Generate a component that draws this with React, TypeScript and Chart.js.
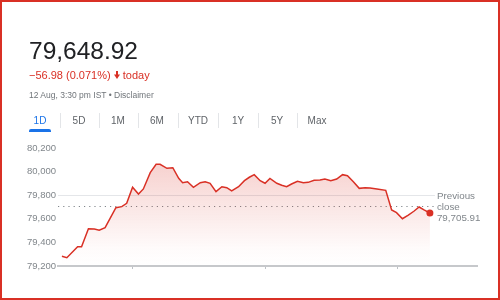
import React, { useEffect, useRef } from 'react';
import { Chart, registerables } from 'chart.js';

Chart.register(...registerables);

// ---- data ----
const TIMES = [0, 5, 16, 20, 27, 33, 38, 44, 55, 61, 66, 72, 78, 83, 90, 96, 100, 107, 113, 119, 123, 128, 134, 141, 146, 151, 157, 163, 168, 173, 180, 186, 191, 196, 202, 207, 212, 219, 224, 229, 234, 240, 246, 251, 257, 263, 268, 274, 280, 286, 291, 297, 303, 309, 314, 321, 330, 336, 341, 347, 353, 359, 364, 369, 375];
const PRICES = [79282, 79270, 79364, 79364, 79516, 79514, 79503, 79525, 79694, 79703, 79731, 79867, 79810, 79853, 79991, 80062, 80062, 80028, 80033, 79943, 79906, 79914, 79867, 79906, 79914, 79901, 79830, 79872, 79864, 79836, 79872, 79923, 79952, 79974, 79923, 79901, 79942, 79901, 79884, 79872, 79895, 79918, 79906, 79909, 79926, 79929, 79937, 79923, 79937, 79974, 79965, 79914, 79858, 79864, 79861, 79853, 79841, 79675, 79652, 79601, 79632, 79666, 79700, 79675, 79648.92];
const Y_TICKS = [79200, 79400, 79600, 79800, 80000, 80200];
const X_TICKS = [72, 207, 342];
const X_RANGE = [-4, 423];
const PREV_CLOSE = 79705.91;
const GRID_VALUE = 79800;
const TABS = ['1D', '5D', '1M', '6M', 'YTD', '1Y', '5Y', 'Max'];
const PRICE_TEXT = '79,648.92';
const CHANGE_TEXT = '\u221256.98 (0.071%)';
const CHANGE_SUFFIX = 'today';
const DATE_TEXT = '12 Aug, 3:30 pm IST \u2022 Disclaimer';
const PREV_LABEL = ['Previous', 'close', '79,705.91'];

const FONT = "'Liberation Sans', Arial, sans-serif";
const RED = '#d93025';

const prevClosePlugin = {
  id: 'prevClose',
  beforeDatasetsDraw(chart: any) {
    const { ctx, chartArea, scales } = chart;
    const y = Math.round(scales.y.getPixelForValue(PREV_CLOSE)) + 0.5;
    const xEnd = scales.x.getPixelForValue(TIMES[TIMES.length - 1]) + 4;
    ctx.save();
    ctx.strokeStyle = '#80868b';
    ctx.lineWidth = 1;
    ctx.setLineDash([1.2, 4]);
    ctx.beginPath();
    ctx.moveTo(chartArea.left, y);
    ctx.lineTo(xEnd, y);
    ctx.stroke();
    ctx.restore();
  },
  afterDraw(chart: any) {
    const { ctx, chartArea, scales } = chart;
    const y = scales.y.getPixelForValue(PREV_CLOSE);
    const xEnd = scales.x.getPixelForValue(TIMES[TIMES.length - 1]) + 4;
    ctx.save();
    ctx.fillStyle = '#ffffff';
    ctx.fillRect(xEnd + 1, y - 17, chartArea.right - xEnd + 2, 35);
    ctx.fillStyle = '#80868b';
    ctx.font = `9.8px ${FONT}`;
    ctx.textBaseline = 'middle';
    ctx.textAlign = 'left';
    PREV_LABEL.forEach((t, i) => {
      ctx.fillText(t, xEnd + 3, y - 10 + i * 11);
    });
    ctx.restore();
  },
};

function StockChart() {
  const ref = useRef<HTMLCanvasElement | null>(null);
  useEffect(() => {
    if (!ref.current) return;
    const chart = new Chart(ref.current, {
      type: 'line',
      data: {
        datasets: [
          {
            data: TIMES.map((t, i) => ({ x: t, y: PRICES[i] })),
            borderColor: RED,
            borderWidth: 1.5,
            tension: 0,
            fill: 'start',
            backgroundColor: (c: any) => {
              const a = c.chart.chartArea;
              if (!a) return 'rgba(0,0,0,0)';
              const g = c.chart.ctx.createLinearGradient(0, a.top, 0, a.bottom);
              g.addColorStop(0, 'rgba(217,48,37,0.26)');
              g.addColorStop(0.85, 'rgba(217,48,37,0.02)');
              g.addColorStop(1, 'rgba(217,48,37,0)');
              return g;
            },
            pointRadius: (c: any) => (c.dataIndex === PRICES.length - 1 ? 3.5 : 0),
            pointBackgroundColor: RED,
            pointBorderWidth: 0,
            pointHoverRadius: 0,
          },
        ],
      },
      options: {
        animation: false,
        responsive: false,
        maintainAspectRatio: false,
        events: [],
        layout: { padding: { left: 14, right: 23, top: 148, bottom: 31 } },
        plugins: { legend: { display: false }, tooltip: { enabled: false } },
        scales: {
          x: {
            type: 'linear',
            min: X_RANGE[0],
            max: X_RANGE[1],
            afterBuildTicks: (s: any) => {
              s.ticks = X_TICKS.map((v) => ({ value: v }));
            },
            afterFit: (s: any) => {
              s.height = 3;
            },
            ticks: { display: false },
            grid: { drawOnChartArea: false, drawTicks: true, tickLength: 3, color: '#bdc1c6', lineWidth: 1 },
            border: { display: true, color: '#c6c8cb', width: 2 },
          },
          y: {
            min: Y_TICKS[0],
            max: Y_TICKS[Y_TICKS.length - 1],
            afterBuildTicks: (s: any) => {
              s.ticks = Y_TICKS.map((v) => ({ value: v }));
            },
            afterFit: (s: any) => {
              s.width = 44;
            },
            ticks: {
              color: '#80868b',
              padding: 2,
              font: { family: FONT, size: 9.5 },
              callback: (v: any) => Number(v).toLocaleString('en-US'),
            },
            grid: {
              drawTicks: false,
              color: (c: any) => (c.tick && c.tick.value === GRID_VALUE ? '#e4e6e9' : 'rgba(0,0,0,0)'),
            },
            border: { display: false },
          },
        },
      },
      plugins: [prevClosePlugin],
    } as any);
    return () => chart.destroy();
  }, []);
  return <canvas ref={ref} width={500} height={300} style={{ position: 'absolute', left: 0, top: 0, width: 500, height: 300 }} />;
}

const TAB_CENTERS = [40, 79, 118, 157, 198, 238, 277, 317];

export default function App() {
  const text = (fs: number, capTop: number): React.CSSProperties => ({
    position: 'absolute',
    left: 29,
    top: capTop - 0.1305 * fs,
    fontSize: fs,
    lineHeight: `${fs}px`,
    fontFamily: FONT,
    whiteSpace: 'nowrap',
  });
  return (
    <div style={{ position: 'fixed', left: 0, top: 0, width: 500, height: 300, background: '#fff', overflow: 'hidden', fontFamily: FONT }}>
      <StockChart />
      <div style={{ ...text(24.5, 41.7), color: '#202124' }}>{PRICE_TEXT}</div>
      <div style={{ ...text(11, 71), color: RED }}>
        {CHANGE_TEXT}{' '}
        <svg width="6" height="8" viewBox="0 0 6 8" style={{ display: 'inline-block', verticalAlign: 'baseline' }}>
          <rect x="2" y="0" width="2" height="4.5" fill={RED} />
          <polygon points="0,3.5 6,3.5 3,8" fill={RED} />
        </svg>{' '}
        {CHANGE_SUFFIX}
      </div>
      <div style={{ ...text(8.5, 91.7), color: '#70757a' }}>{DATE_TEXT}</div>
      {TABS.map((t, i) => (
        <div
          key={t}
          style={{
            position: 'absolute',
            left: TAB_CENTERS[i] - 20,
            width: 40,
            textAlign: 'center',
            top: 117 - 1.3,
            fontSize: 10,
            lineHeight: '10px',
            fontFamily: FONT,
            color: i === 0 ? '#1a73e8' : '#5f6368',
          }}
        >
          {t}
        </div>
      ))}
      {TAB_CENTERS.slice(0, -1).map((c, i) => (
        <div
          key={'sep' + i}
          style={{ position: 'absolute', left: Math.round((c + TAB_CENTERS[i + 1]) / 2), top: 113, width: 1, height: 15, background: '#e3e5e8' }}
        />
      ))}
      <div style={{ position: 'absolute', left: 29, top: 129, width: 22, height: 2.5, background: '#1a73e8', borderRadius: '2px 2px 0 0' }} />
      <div style={{ position: 'absolute', left: 0, top: 0, width: 500, height: 300, boxSizing: 'border-box', border: '2px solid #d93025', pointerEvents: 'none' }} />
    </div>
  );
}
